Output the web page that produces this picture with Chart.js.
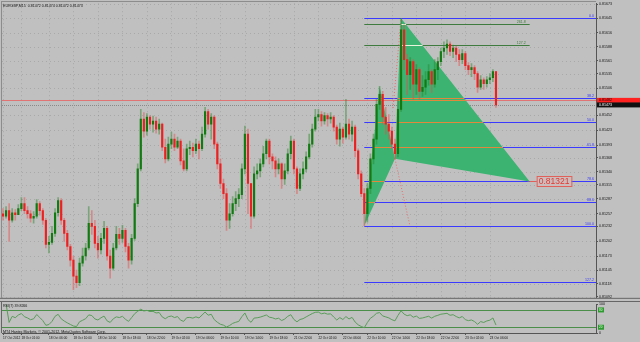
<!DOCTYPE html>
<html>
<head>
<meta charset="utf-8">
<script src="https://cdn.jsdelivr.net/npm/chart.js@4.4.1/dist/chart.umd.min.js"></script>
<style>
  html, body { margin: 0; padding: 0; background: #c0c0c0; width: 640px; height: 342px; overflow: hidden; }
  canvas { position: absolute; left: 0; }
  #main { top: 0; }
  #rsi { top: 301px; }
</style>
</head>
<body>
<canvas id="main" width="640" height="301"></canvas>
<canvas id="rsi" width="640" height="41"></canvas>
<script>
// EURGBP candles, one per ~3px column
const firstOpen = 0.81257;
const close = [
  0.81252,0.81263,0.81244,0.81259,0.81255,0.81267,0.81277,0.81263,0.81257,0.81248,
  0.81252,0.81277,0.81263,0.81244,0.81196,0.81200,0.81218,0.81259,0.81283,0.81244,
  0.81218,0.81192,0.81165,0.81133,0.81120,0.81159,0.81173,0.81189,0.81238,0.81232,
  0.81198,0.81185,0.81208,0.81228,0.81173,0.81149,0.81189,0.81216,0.81208,0.81224,
  0.81192,0.81165,0.81208,0.81277,0.81346,0.81445,0.81421,0.81449,0.81435,0.81441,
  0.81425,0.81435,0.81389,0.81366,0.81395,0.81405,0.81389,0.81401,0.81362,0.81346,
  0.81386,0.81389,0.81382,0.81395,0.81386,0.81415,0.81460,0.81435,0.81449,0.81395,
  0.81356,0.81317,0.81297,0.81244,0.81257,0.81277,0.81287,0.81295,0.81346,0.81415,
  0.81317,0.81252,0.81336,0.81342,0.81356,0.81376,0.81401,0.81370,0.81362,0.81346,
  0.81356,0.81326,0.81342,0.81376,0.81401,0.81346,0.81307,0.81336,0.81346,0.81370,
  0.81395,0.81425,0.81449,0.81454,0.81441,0.81452,0.81445,0.81449,0.81429,0.81405,
  0.81425,0.81409,0.81435,0.81415,0.81429,0.81382,0.81336,0.81297,0.81257,0.81307,
  0.81366,0.81405,0.81474,0.81494,0.81449,0.81435,0.81421,0.81395,0.81376,0.81464,
  0.81622,0.81563,0.81533,0.81559,0.81514,0.81543,0.81500,0.81508,0.81523,0.81539,
  0.81514,0.81543,0.81559,0.81579,0.81586,0.81594,0.81579,0.81586,0.81573,0.81563,
  0.81575,0.81551,0.81543,0.81547,0.81535,0.81508,0.81523,0.81515,0.81523,0.81527,
  0.81539,0.81473
];
const high = [
  0.81267,0.81271,0.81277,0.81267,0.81265,0.81275,0.81289,0.81289,0.81271,0.81263,
  0.81261,0.81285,0.81281,0.81267,0.81248,0.81212,0.81232,0.81267,0.81289,0.81287,
  0.81248,0.81224,0.81196,0.81173,0.81145,0.81169,0.81189,0.81198,0.81271,0.81263,
  0.81244,0.81212,0.81218,0.81242,0.81232,0.81185,0.81198,0.81232,0.81228,0.81234,
  0.81228,0.81198,0.81216,0.81287,0.81356,0.81464,0.81458,0.81456,0.81452,0.81451,
  0.81449,0.81445,0.81437,0.81405,0.81409,0.81419,0.81415,0.81409,0.81405,0.81386,
  0.81395,0.81401,0.81397,0.81405,0.81401,0.81429,0.81468,0.81464,0.81456,0.81452,
  0.81399,0.81366,0.81326,0.81307,0.81277,0.81291,0.81301,0.81307,0.81356,0.81431,
  0.81425,0.81317,0.81350,0.81356,0.81366,0.81391,0.81405,0.81405,0.81376,0.81370,
  0.81366,0.81358,0.81356,0.81386,0.81411,0.81405,0.81350,0.81346,0.81360,0.81380,
  0.81415,0.81435,0.81464,0.81464,0.81460,0.81458,0.81456,0.81458,0.81452,0.81433,
  0.81437,0.81429,0.81484,0.81445,0.81441,0.81433,0.81386,0.81342,0.81307,0.81317,
  0.81376,0.81415,0.81484,0.81510,0.81500,0.81468,0.81454,0.81429,0.81405,0.81484,
  0.81645,0.81632,0.81573,0.81567,0.81563,0.81553,0.81547,0.81531,0.81539,0.81553,
  0.81543,0.81563,0.81567,0.81586,0.81598,0.81602,0.81598,0.81592,0.81590,0.81583,
  0.81583,0.81579,0.81557,0.81555,0.81551,0.81539,0.81531,0.81527,0.81529,0.81535,
  0.81543,0.81539
];
const low = [
  0.81244,0.81248,0.81202,0.81240,0.81244,0.81255,0.81263,0.81257,0.81248,0.81240,
  0.81238,0.81248,0.81254,0.81236,0.81189,0.81179,0.81196,0.81212,0.81252,0.81236,
  0.81202,0.81185,0.81153,0.81106,0.81110,0.81114,0.81153,0.81165,0.81185,0.81216,
  0.81189,0.81169,0.81177,0.81198,0.81165,0.81129,0.81145,0.81185,0.81196,0.81200,
  0.81181,0.81149,0.81157,0.81204,0.81271,0.81342,0.81409,0.81413,0.81425,0.81419,
  0.81417,0.81415,0.81382,0.81358,0.81362,0.81386,0.81382,0.81386,0.81354,0.81342,
  0.81342,0.81374,0.81370,0.81376,0.81366,0.81382,0.81409,0.81425,0.81405,0.81386,
  0.81346,0.81307,0.81287,0.81224,0.81228,0.81252,0.81263,0.81271,0.81287,0.81336,
  0.81257,0.81228,0.81248,0.81326,0.81330,0.81350,0.81366,0.81356,0.81346,0.81330,
  0.81336,0.81307,0.81315,0.81336,0.81366,0.81336,0.81297,0.81303,0.81326,0.81340,
  0.81366,0.81389,0.81421,0.81441,0.81431,0.81435,0.81431,0.81437,0.81421,0.81395,
  0.81391,0.81397,0.81405,0.81405,0.81401,0.81370,0.81326,0.81291,0.81233,0.81240,
  0.81297,0.81356,0.81395,0.81464,0.81435,0.81415,0.81405,0.81386,0.81366,0.81370,
  0.81460,0.81543,0.81494,0.81504,0.81484,0.81494,0.81484,0.81490,0.81494,0.81512,
  0.81498,0.81508,0.81523,0.81551,0.81567,0.81573,0.81571,0.81567,0.81559,0.81551,
  0.81555,0.81543,0.81533,0.81529,0.81523,0.81498,0.81504,0.81504,0.81508,0.81515,
  0.81519,0.81468
];

// axes
const priceMin = 0.81090, priceMax = 0.81675;
const priceTicks = [0.81673, 0.81645, 0.81616, 0.81588, 0.81561, 0.81535, 0.81506, 0.81452, 0.81423, 0.81393,
  0.81368, 0.81340, 0.81315, 0.81287, 0.81257, 0.81232, 0.81202, 0.81173, 0.81145, 0.81118, 0.81092];
const timeTickBars = [0, 6, 15, 23, 31, 39, 47, 55, 63, 71, 79, 87, 95, 103, 111, 119, 127, 135, 143, 151, 159];
const timeTickLabels = ['17 Oct 2012', '18 Oct 01:00', '18 Oct 06:00', '18 Oct 10:00', '18 Oct 14:00', '18 Oct 18:00',
  '18 Oct 22:00', '19 Oct 02:00', '19 Oct 06:00', '19 Oct 10:00', '19 Oct 14:00', '19 Oct 18:00', '21 Oct 22:00',
  '22 Oct 02:00', '22 Oct 06:00', '22 Oct 10:00', '22 Oct 14:00', '22 Oct 18:00', '22 Oct 22:00', '23 Oct 02:00',
  '23 Oct 06:00'];
const xMin = -0.33, xMax = 193.67;

// objects on the chart
const askPrice = 0.81482, bidPrice = 0.81473;
const patternBars = [118, 123, 128, 130, 172];          // X A B C D
const patternPrices = [0.81233, 0.81510, 0.81366, 0.81645, 0.81321];
const fibLevels = [0, 38.2, 50, 61.8, 78.6, 88.6, 100, 127.2];
const extLabels = ['261.8', '127.2'];
const extPrices = [0.81634, 0.81592];
const zigzag = [[127.4, 0.81467, 130, 0.81645], [128, 0.81366, 132.9, 0.81233]];
const rsiLevels = [80, 20];

const titleText = 'EURGBP,M15  0.81472 0.81474 0.81472 0.81473';
const rsiText = 'RSI(7) 39.8266';
const copyText = 'MT4 Hantec Markets, \u00a9 2001-2012, MetaQuotes Software Corp.';

const FONT = "'Liberation Sans', Arial, sans-serif";
const bars = close.map((c, i) => i);
const open = close.map((c, i) => i === 0 ? firstOpen : close[i - 1]);
const isUp = bars.map(i => close[i] >= open[i]);

const fibHi = patternPrices[3], fibLo = patternPrices[0];
const fibPrice = l => fibHi - l / 100 * (fibHi - fibLo);

function seg(ctx, x1, y1, x2, y2) {
  ctx.beginPath(); ctx.moveTo(x1, y1); ctx.lineTo(x2, y2); ctx.stroke();
}
function triPath(ctx, pts) {
  ctx.moveTo(pts[0][0], pts[0][1]);
  ctx.lineTo(pts[1][0], pts[1][1]);
  ctx.lineTo(pts[2][0], pts[2][1]);
  ctx.closePath();
}

const objects = {
  id: 'objects',
  beforeDatasetsDraw(chart) {
    const {ctx, chartArea: a, scales: {x, y}} = chart;
    const px = v => x.getPixelForValue(v), py = v => y.getPixelForValue(v);
    const crisp = v => Math.round(v) + 0.5;
    ctx.save();
    ctx.beginPath(); ctx.rect(a.left, a.top, a.width, a.height); ctx.clip();
    ctx.lineWidth = 1;

    // dotted grid
    ctx.strokeStyle = 'rgba(100,100,100,0.25)';
    ctx.setLineDash([1, 3]);
    priceTicks.forEach(v => seg(ctx, a.left, crisp(py(v)), a.right, crisp(py(v))));
    timeTickBars.forEach(v => seg(ctx, crisp(px(v)), a.top, crisp(px(v)), a.bottom));
    ctx.setLineDash([]);

    const x0 = px(patternBars[0]), xD = px(patternBars[4]);
    // fibo levels
    ctx.strokeStyle = '#3a3aff';
    fibLevels.forEach(l => seg(ctx, x0, crisp(py(fibPrice(l))), a.right, crisp(py(fibPrice(l)))));
    ctx.strokeStyle = '#3f7a3f';
    extPrices.forEach(p => seg(ctx, x0, crisp(py(p)), xD, crisp(py(p))));

    // price lines
    ctx.strokeStyle = 'rgba(235,90,90,0.75)';
    seg(ctx, a.left, crisp(py(askPrice)), a.right, crisp(py(askPrice)));
    ctx.strokeStyle = '#8a8a8a';
    ctx.setLineDash([1, 1]);
    seg(ctx, a.left, crisp(py(bidPrice)), a.right, crisp(py(bidPrice)));
    ctx.setLineDash([]);

    // pattern triangles
    const P = patternBars.map((b, k) => [px(b), py(patternPrices[k])]);
    const t1 = [P[0], P[1], P[2]], t2 = [P[2], P[3], P[4]];
    ctx.fillStyle = '#3cb371';
    ctx.beginPath(); triPath(ctx, t1); triPath(ctx, t2); ctx.fill();

    // lines seen through the fill
    ctx.save();
    ctx.beginPath(); triPath(ctx, t1); triPath(ctx, t2); ctx.clip();
    ctx.strokeStyle = '#e2883c';
    fibLevels.forEach(l => seg(ctx, x0, crisp(py(fibPrice(l))), a.right, crisp(py(fibPrice(l)))));
    seg(ctx, a.left, crisp(py(askPrice)), a.right, crisp(py(askPrice)));
    ctx.strokeStyle = '#e8f4dc';
    extPrices.forEach(p => seg(ctx, x0, crisp(py(p)), xD, crisp(py(p))));
    ctx.restore();

    // zigzag dotted lines
    ctx.strokeStyle = 'rgba(235,95,95,0.85)';
    ctx.setLineDash([1, 2]);
    zigzag.forEach(z => seg(ctx, px(z[0]), py(z[1]), px(z[2]), py(z[3])));
    ctx.setLineDash([]);
    ctx.restore();
  },
  afterDraw(chart) {
    const {ctx, chartArea: a, scales: {x, y}} = chart;
    const px = v => x.getPixelForValue(v), py = v => y.getPixelForValue(v);
    ctx.save();
    // window border
    ctx.strokeStyle = '#8c8c8c'; ctx.lineWidth = 1;
    seg(ctx, 1.5, 1, 1.5, a.bottom);
    seg(ctx, 1, 1.5, a.right, 1.5);
    ctx.strokeStyle = '#666';
    seg(ctx, 0, a.bottom + 0.5, 640, a.bottom + 0.5);

    // level labels
    ctx.font = '3.6px ' + FONT;
    ctx.textAlign = 'right'; ctx.textBaseline = 'alphabetic';
    ctx.fillStyle = '#3434ff';
    fibLevels.forEach(l => ctx.fillText(l.toFixed(1), a.right - 2, Math.round(py(fibPrice(l))) - 1));
    ctx.fillStyle = '#3d7a3d';
    extPrices.forEach((p, k) => ctx.fillText(extLabels[k], px(patternBars[4]) - 4, Math.round(py(p)) - 1));

    // title
    ctx.textAlign = 'left'; ctx.fillStyle = '#111';
    ctx.fillText(titleText, 3, 7);

    // D point label
    const dx = px(patternBars[4]), dy = py(patternPrices[4]);
    ctx.font = '8.5px ' + FONT;
    const dText = patternPrices[4].toFixed(5);
    const w = ctx.measureText(dText).width + 4;
    ctx.strokeStyle = '#e0605a';
    seg(ctx, dx, Math.round(dy) + 0.5, dx + 7, Math.round(dy) + 0.5);
    ctx.fillStyle = '#cbbdbd';
    ctx.fillRect(dx + 7, Math.round(dy) - 5, w, 11);
    ctx.strokeRect(dx + 7.5, Math.round(dy) - 4.5, w, 10);
    ctx.fillStyle = '#e4372f'; ctx.textBaseline = 'middle';
    ctx.fillText(dText, dx + 9, Math.round(dy) + 1);

    // ask / bid boxes on the price scale
    ctx.font = '3.6px ' + FONT;
    const ya = py(askPrice), yb = py(bidPrice);
    ctx.fillStyle = '#ff2020'; ctx.fillRect(a.right + 1, ya - 2.5, 43, 5);
    ctx.fillStyle = '#200000'; ctx.fillText(askPrice.toFixed(5), a.right + 3, ya);
    ctx.fillStyle = '#111'; ctx.fillRect(a.right + 1, yb - 2.5, 43, 5);
    ctx.fillStyle = '#fff'; ctx.fillText(bidPrice.toFixed(5), a.right + 3, yb);
    ctx.restore();
  }
};

new Chart(document.getElementById('main'), {
  type: 'bar',
  data: {
    datasets: [
      {
        data: bars.map(i => ({x: i, y: [low[i], high[i]]})),
        backgroundColor: bars.map(i => isUp[i] ? 'rgba(40,130,40,0.45)' : 'rgba(235,70,70,0.45)'),
        barThickness: 1, grouped: false, borderWidth: 0, order: 2
      },
      {
        data: bars.map(i => ({x: i, y: [open[i], close[i]]})),
        backgroundColor: bars.map(i => isUp[i] ? '#117a11' : '#ec2020'),
        barThickness: 1.5, grouped: false, borderWidth: 0, minBarLength: 1, order: 1
      }
    ]
  },
  options: {
    responsive: false, animation: false, events: [], devicePixelRatio: 1,
    layout: {padding: {left: 2, top: 3, right: 0, bottom: 1}},
    plugins: {legend: {display: false}, tooltip: {enabled: false}},
    scales: {
      x: {type: 'linear', min: xMin, max: xMax, offset: false, display: false, grid: {offset: false}},
      y: {
        position: 'right', min: priceMin, max: priceMax,
        afterFit: s => { s.width = 44; },
        afterBuildTicks: s => { s.ticks = priceTicks.map(v => ({value: v})); },
        ticks: {font: {family: FONT, size: 3.6}, color: '#111', padding: 1, autoSkip: false,
          callback: v => v.toFixed(5)},
        grid: {drawOnChartArea: false, tickLength: 2, color: '#555'},
        border: {color: '#555'}
      }
    }
  },
  plugins: [objects]
});

// RSI(7) from the closes above
function calcRsi(c, n) {
  const out = [null];
  let ag = 0, al = 0;
  for (let i = 1; i < c.length; i++) {
    const d = c[i] - c[i - 1];
    const k = Math.min(i, n);
    ag = (ag * (k - 1) + Math.max(d, 0)) / k;
    al = (al * (k - 1) + Math.max(-d, 0)) / k;
    out.push(al === 0 ? 100 : 100 - 100 / (1 + ag / al));
  }
  return out;
}
const rsi = calcRsi(close, 7);

const rsiDeco = {
  id: 'rsiDeco',
  beforeDatasetsDraw(chart) {
    const {ctx, chartArea: a, scales: {y}} = chart;
    ctx.save();
    ctx.strokeStyle = '#4a8e4a'; ctx.lineWidth = 1;
    rsiLevels.forEach(l => seg(ctx, a.left, Math.round(y.getPixelForValue(l)) + 0.5, a.right, Math.round(y.getPixelForValue(l)) + 0.5));
    ctx.restore();
  },
  afterDraw(chart) {
    const {ctx, chartArea: a, scales: {y}} = chart;
    ctx.save();
    ctx.strokeStyle = '#666'; ctx.lineWidth = 1;
    seg(ctx, 0, 0.5, 640, 0.5);
    seg(ctx, 1.5, 0, 1.5, a.bottom);
    ctx.font = '3.6px ' + FONT; ctx.fillStyle = '#111';
    ctx.textAlign = 'left'; ctx.textBaseline = 'middle';
    ctx.fillText(rsiText, 3, 5);
    ctx.fillText(copyText, 3, 30.5);
    rsiLevels.forEach(l => {
      const yy = y.getPixelForValue(l);
      ctx.fillStyle = '#2f9a2f'; ctx.fillRect(a.right + 2, yy - 2.5, 6, 5);
      ctx.fillStyle = '#eaffea'; ctx.font = '3px ' + FONT;
      ctx.fillText(String(l), a.right + 3, yy);
    });
    ctx.restore();
  }
};

new Chart(document.getElementById('rsi'), {
  type: 'line',
  data: {
    datasets: [{
      data: bars.map(i => ({x: i, y: rsi[i]})),
      borderColor: '#5a9c5a', borderWidth: 1, pointRadius: 0, tension: 0, spanGaps: true
    }]
  },
  options: {
    responsive: false, animation: false, events: [], devicePixelRatio: 1,
    layout: {padding: {left: 2, top: 3, right: 0, bottom: 0}},
    plugins: {legend: {display: false}, tooltip: {enabled: false}},
    scales: {
      x: {
        type: 'linear', min: xMin, max: xMax, offset: false,
        afterFit: s => { s.height = 9; },
        afterBuildTicks: s => { s.ticks = timeTickBars.map(v => ({value: v})); },
        ticks: {font: {family: FONT, size: 3.2}, color: '#111', padding: 1, align: 'start',
          maxRotation: 0, autoSkip: false, callback: v => timeTickLabels[timeTickBars.indexOf(v)]},
        grid: {drawOnChartArea: false, tickLength: 2, color: '#555'},
        border: {color: '#555'}
      },
      y: {
        position: 'right', min: 0, max: 100,
        afterFit: s => { s.width = 44; },
        afterBuildTicks: s => { s.ticks = [{value: 0}, {value: 100}]; },
        ticks: {font: {family: FONT, size: 3.6}, color: '#111', padding: 1, autoSkip: false},
        grid: {drawOnChartArea: false, tickLength: 2, color: '#555'},
        border: {color: '#555'}
      }
    }
  },
  plugins: [rsiDeco]
});
</script>
</body>
</html>
